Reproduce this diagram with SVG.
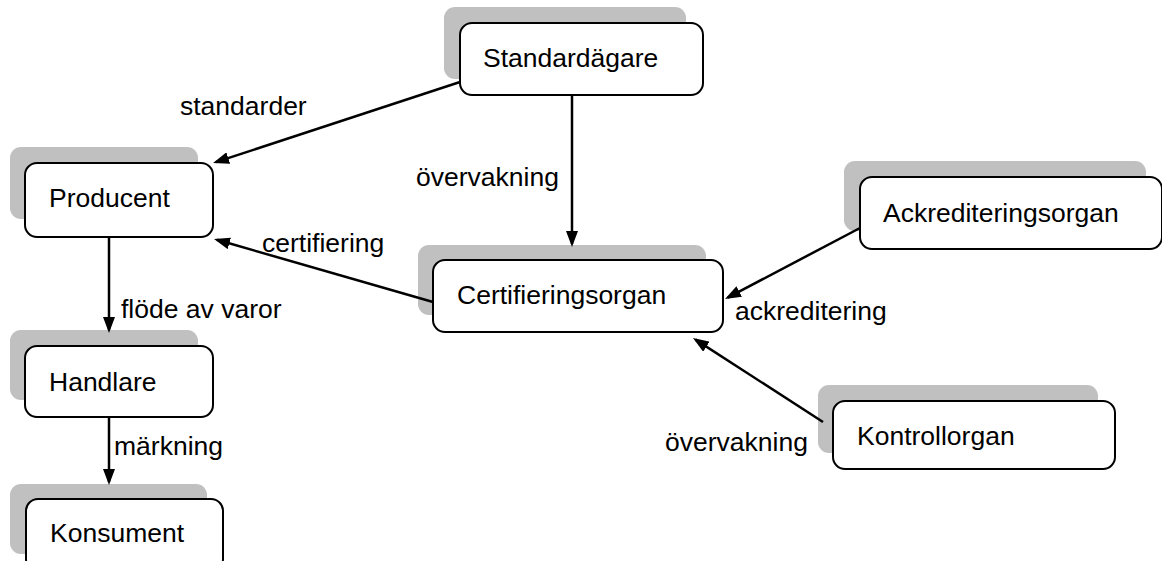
<svg xmlns="http://www.w3.org/2000/svg" width="1162" height="561" viewBox="0 0 1162 561">
<style>
.sh{fill:#c0c0c0;stroke:none}
.bx{fill:#ffffff;stroke:#000000;stroke-width:2}
.t{font-family:"Liberation Sans",Arial,sans-serif;font-size:26.5px;fill:#000000}
.c{stroke:#000000;stroke-width:2.5;fill:none;marker-end:url(#ah)}
</style>
<defs>
<marker id="ah" markerUnits="userSpaceOnUse" markerWidth="16" markerHeight="12" refX="13" refY="6" orient="auto">
<path d="M0,0 L16,6 L0,12 z" fill="#000000"/>
</marker>
</defs>
<rect width="1162" height="561" fill="#ffffff"/>
<g id="standardagare">
<rect class="sh" x="444" y="7" width="242" height="72" rx="11"/>
<rect class="bx" x="460" y="23" width="243" height="72" rx="12"/>
<text class="t" x="483" y="67">Standardägare</text>
</g>
<g id="producent">
<rect class="sh" x="10" y="147" width="188" height="72" rx="11"/>
<rect class="bx" x="25" y="163" width="188" height="74" rx="12"/>
<text class="t" x="49" y="207">Producent</text>
</g>
<g id="handlare">
<rect class="sh" x="10" y="330" width="188" height="70" rx="11"/>
<rect class="bx" x="25" y="346" width="188" height="71" rx="12"/>
<text class="t" x="49" y="391">Handlare</text>
</g>
<g id="konsument">
<rect class="sh" x="10" y="484" width="197" height="70" rx="11"/>
<rect class="bx" x="26" y="499" width="197" height="72" rx="12"/>
<text class="t" x="50" y="542">Konsument</text>
</g>
<g id="certifieringsorgan">
<rect class="sh" x="418" y="245" width="288" height="70" rx="11"/>
<rect class="bx" x="433" y="260" width="290" height="72" rx="12"/>
<text class="t" x="457" y="304">Certifieringsorgan</text>
</g>
<g id="ackrediteringsorgan">
<rect class="sh" x="844" y="161" width="302" height="70" rx="11"/>
<rect class="bx" x="860" y="177" width="302" height="72" rx="12"/>
<text class="t" x="883" y="222">Ackrediteringsorgan</text>
</g>
<g id="kontrollorgan">
<rect class="sh" x="818" y="385" width="280" height="68" rx="11"/>
<rect class="bx" x="833" y="401" width="282" height="68" rx="12"/>
<text class="t" x="857" y="445">Kontrollorgan</text>
</g>
<g id="connectors">
<path class="c" d="M460,82 L215.9,162.1"/>
<path class="c" d="M572,95 L572,244"/>
<path class="c" d="M433,302 L216.9,239.8"/>
<path class="c" d="M109,237 L109,330"/>
<path class="c" d="M109,417 L109,482"/>
<path class="c" d="M860,228 L727.7,297.6"/>
<path class="c" d="M823,422 L695.5,339.6"/>
</g>
<g id="labels">
<text class="t" x="180" y="115">standarder</text>
<text class="t" x="416" y="186">övervakning</text>
<text class="t" x="262" y="252">certifiering</text>
<text class="t" x="121" y="318">flöde av varor</text>
<text class="t" x="114" y="455">märkning</text>
<text class="t" x="735" y="320">ackreditering</text>
<text class="t" x="665" y="451">övervakning</text>
</g>
</svg>
